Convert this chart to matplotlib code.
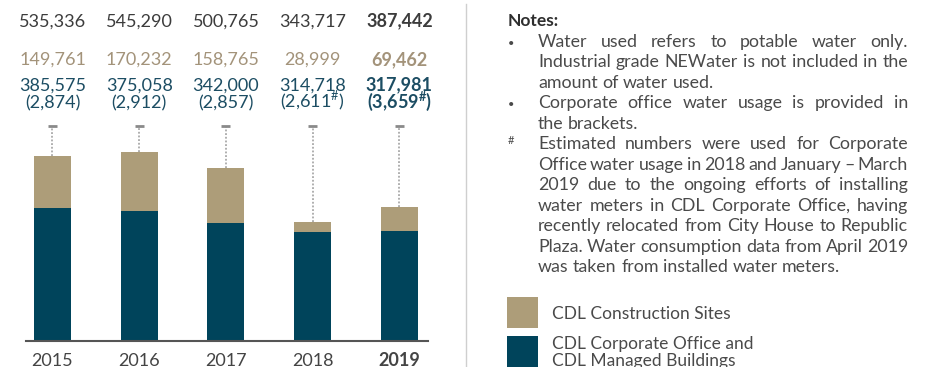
import matplotlib
matplotlib.use("Agg")
import matplotlib.pyplot as plt
from matplotlib.transforms import blended_transform_factory

# water withdrawal, m3
years = ["2015", "2016", "2017", "2018", "2019"]
managed = [385575, 375058, 342000, 314718, 317981]
construction = [149761, 170232, 158765, 28999, 69462]
totals = [535336, 545290, 500765, 343717, 387442]
office = ["(2,874)", "(2,912)", "(2,857)", r"(2,611$^\mathregular{\#}$)", r"(3,659$^\mathregular{\#}$)"]
bold_year = "2019"

KHAKI = "#ad9d79"
TEAL = "#00445b"
GREY_TXT = "#3c3c3c"
KHAKI_TXT = "#a3937a"
TEAL_TXT = "#1c4d63"

W, H = 937, 367
plt.rcParams["font.family"] = ["Lato", "DejaVu Sans"]
plt.rcParams["mathtext.fontset"] = "custom"
plt.rcParams["mathtext.rm"] = "Lato"
plt.rcParams["mathtext.bf"] = "Lato:bold"
fig = plt.figure(figsize=(W / 100, H / 100), dpi=100)


def fx(px):
    return px / W


def fy(py):
    return 1 - py / H


# bar axes: baseline at y=341px, 1px ~ 2890 units
ax = fig.add_axes([fx(26), fy(341), fx(428 - 26), 341 / H])
xs = list(range(len(years)))
ax.bar(xs, managed, width=0.427, color=TEAL, zorder=2)
ax.bar(xs, construction, bottom=managed, width=0.427, color=KHAKI, zorder=2)
ax.set_xlim(-0.305, 4.329)
ax.set_ylim(0, 341 * 2890)

cap = 622000
for x, t in zip(xs, totals):
    ax.plot([x, x], [t, cap], color="#9a9a9a", lw=1.1, ls=(0, (1.2, 1.2)), zorder=1)
    ax.plot([x - 0.052, x + 0.052], [cap, cap], color="#8a8a8a", lw=2, solid_capstyle="butt", zorder=1)

for side in ["top", "right", "left"]:
    ax.spines[side].set_visible(False)
ax.spines["bottom"].set_color("#555555")
ax.spines["bottom"].set_linewidth(1.5)
ax.set_xticks([])
ax.set_yticks([])
ax.patch.set_visible(False)

# value labels above the bars
tr = blended_transform_factory(ax.transData, fig.transFigure)
for i, yr in enumerate(years):
    wt = "bold" if yr == bold_year else "normal"
    off = office[i].replace("mathregular", "mathbf") if yr == bold_year else office[i]
    ax.text(i, fy(26.5), f"{totals[i]:,}", transform=tr, ha="center", va="baseline",
            fontsize=13, color=GREY_TXT, fontweight=wt)
    ax.text(i, fy(65), f"{construction[i]:,}", transform=tr, ha="center", va="baseline",
            fontsize=13, color=KHAKI_TXT, fontweight=wt)
    ax.text(i, fy(90.5), f"{managed[i]:,}", transform=tr, ha="center", va="baseline",
            fontsize=13, color=TEAL_TXT, fontweight=wt)
    ax.text(i, fy(108), off, transform=tr, ha="center", va="baseline",
            fontsize=13, color=TEAL_TXT, fontweight=wt)
    ax.text(i, fy(366), yr, transform=tr, ha="center", va="baseline",
            fontsize=13, color="#444444", fontweight=wt)

# divider
fig.add_artist(plt.Line2D([fx(466), fx(466)], [fy(4), fy(367)], color="#cfcfcf", lw=1))

# notes
fig.text(fx(508), fy(26), "Notes:", fontsize=12.5, fontweight="bold", color="#2e2e2e", va="baseline")

renderer = fig.canvas.get_renderer()
NOTE_KW = dict(fontsize=12.8, color="#4a4a4a", va="baseline")
X0, X1 = 538, 908


def place_line(line, y, justify):
    words = line.split(" ")
    texts = [fig.text(0, fy(y), w, **NOTE_KW) for w in words]
    widths = [t.get_window_extent(renderer).width for t in texts]
    if justify and len(words) > 1:
        gap = (X1 - X0 - sum(widths)) / (len(words) - 1)
    else:
        probe = fig.text(0, 0, "a a", **NOTE_KW)
        probe2 = fig.text(0, 0, "aa", **NOTE_KW)
        gap = probe.get_window_extent(renderer).width - probe2.get_window_extent(renderer).width
        probe.remove()
        probe2.remove()
    x = X0
    for t, w in zip(texts, widths):
        t.set_x(fx(x))
        x += w + gap


notes = [
    ("•", ["Water used refers to potable water only.",
           "Industrial grade NEWater is not included in the",
           "amount of water used."]),
    ("•", ["Corporate office water usage is provided in",
           "the brackets."]),
    ("#", ["Estimated numbers were used for Corporate",
           "Office water usage in 2018 and January – March",
           "2019 due to the ongoing efforts of installing",
           "water meters in CDL Corporate Office, having",
           "recently relocated from City House to Republic",
           "Plaza. Water consumption data from April 2019",
           "was taken from installed water meters."]),
]

row = 0
for marker, lines in notes:
    y0 = 46.7 + 20.5 * row
    if marker == "#":
        fig.text(fx(508), fy(y0 - 5), marker, fontsize=8, color="#4a4a4a", va="baseline")
    else:
        fig.text(fx(508), fy(y0), marker, fontsize=8, color="#4a4a4a", va="baseline")
    for j, line in enumerate(lines):
        place_line(line, 46.7 + 20.5 * row, justify=(j < len(lines) - 1))
        row += 1

# legend swatches
fig.add_artist(plt.Rectangle((fx(507), fy(328)), fx(31), 31 / H, color=KHAKI, lw=0))
fig.add_artist(plt.Rectangle((fx(507), fy(368)), fx(31), 32 / H, color=TEAL, lw=0))
fig.text(fx(552), fy(319), "CDL Construction Sites", fontsize=12.5, color="#4a4a4a", va="baseline")
fig.text(fx(552), fy(349.5), "CDL Corporate Office and", fontsize=12.5, color="#4a4a4a", va="baseline")
fig.text(fx(552), fy(366), "CDL Managed Buildings", fontsize=12.5, color="#4a4a4a", va="baseline")

fig.savefig("out.png", dpi=100)
